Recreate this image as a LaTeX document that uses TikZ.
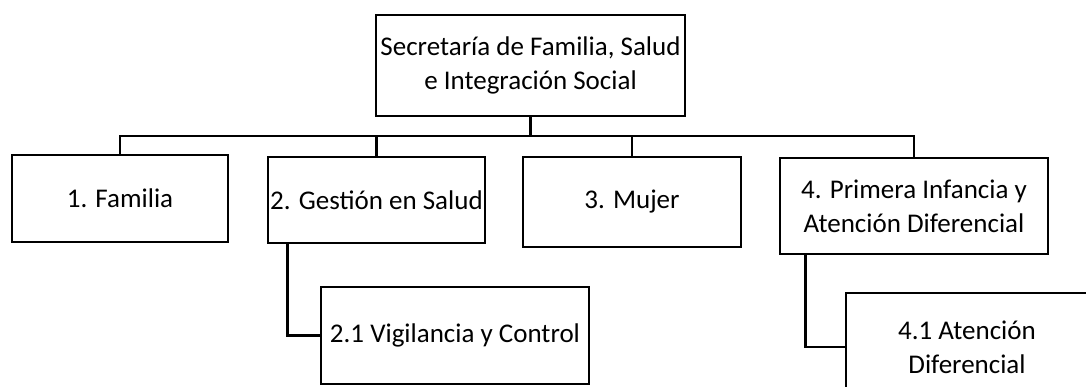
\documentclass[tikz,border=0pt]{standalone}
\usepackage{fontspec}
\setmainfont{Carlito}
\begin{document}
\begin{tikzpicture}[x=1pt,y=-1pt,
  box/.style={draw=black,line width=2.8pt,inner sep=0pt,align=center,
    font=\fontsize{27}{34}\selectfont},
  conn/.style={draw=black,line width=2.8pt}]
\useasboundingbox (0,0) rectangle (1086,386);
\node[box,minimum width=309,minimum height=101] (top) at (530.5,65.5) {Secretaría de Familia, Salud\\e Integración Social};
\node[box,minimum width=216,minimum height=87] (b1) at (120,198.5) {1. Familia};
\node[box,minimum width=217,minimum height=86] (b2) at (376.5,200) {2. Gestión en Salud};
\node[box,minimum width=218,minimum height=90] (b3) at (632,202) {3. Mujer};
\node[box,minimum width=268,minimum height=96] (b4) at (914,206) {4. Primera Infancia y\\Atención Diferencial};
\node[box,minimum width=268,minimum height=97] (b21) at (455,335.5) {2.1 Vigilancia y Control};
\node[box,minimum width=242,minimum height=108] (b41) at (967,347) {4.1 Atención\\Diferencial};
\coordinate (bus) at (530.5,136);
\draw[conn] (top.south) -- (top.south |- bus);
\draw[conn] (b1.north) -- (b1.north |- bus) -- (b4.north |- bus) -- (b4.north);
\draw[conn] (b2.north) -- (b2.north |- bus);
\draw[conn] (b3.north) -- (b3.north |- bus);
\draw[conn] ([xshift=21pt]b2.south west) |- (b21.west);
\draw[conn] ([xshift=27pt]b4.south west) |- (b41.west);
\end{tikzpicture}
\end{document}
